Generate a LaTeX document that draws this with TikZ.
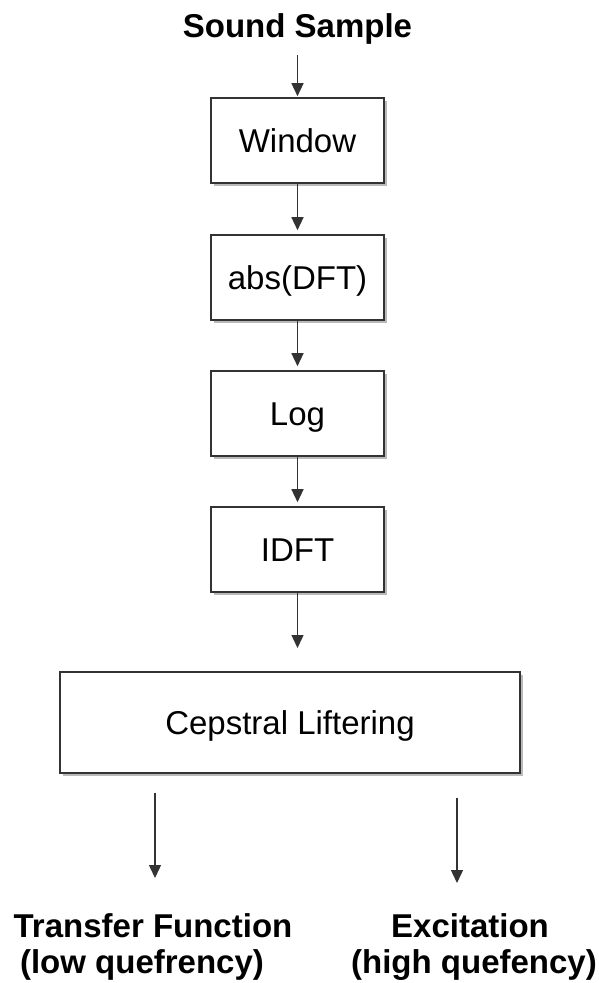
\documentclass[tikz,border=0pt]{standalone}
\usepackage{fontspec}
\setmainfont{Liberation Sans}
\usetikzlibrary{arrows.meta,shadows}
\begin{document}
\begin{tikzpicture}[x=1pt,y=-1pt,
  stepbox/.style={draw=black!80, line width=1.6pt, fill=white, inner sep=0pt,
    minimum width=173pt, minimum height=85pt,
    font=\fontsize{33}{40}\selectfont, text height=23.6pt, text depth=0pt,
    drop shadow={shadow xshift=2.5pt, shadow yshift=-2.5pt, fill=black!45, opacity=0.6}},
  title/.style={font=\fontsize{33}{40}\selectfont\bfseries, inner sep=0pt, anchor=base},
  arr/.style={draw=black!80, line width=1.4pt, -{Triangle[length=13pt,width=12pt]}}
]
\useasboundingbox (0,0) rectangle (599,983);

\node[title] (ss) at (297.5,37) {Sound Sample};
\node[stepbox] (win) at (297.5,140.5) {Window};
\node[stepbox] (abs) at (297.5,277.5) {abs(DFT)};
\node[stepbox] (log) at (297.5,413.5) {Log};
\node[stepbox] (idft) at (297.5,549.5) {IDFT};
\node[stepbox, minimum width=460pt, minimum height=101pt] (cep) at (290,722.5) {Cepstral Liftering};

\node[title] (tf) at (153,937) {Transfer Function};
\node[title] (tfq) at (142,973) {(low quefrency)};
\node[title] (ex) at (470,937) {Excitation};
\node[title] (exq) at (474,973) {(high quefency)};

\coordinate (c1) at (297.5,648);
\coordinate (l1) at (155,793);
\coordinate (l2) at (155,878);
\coordinate (r1) at (457,798);
\coordinate (r2) at (457,883);

\draw[arr, shorten <=11pt, shorten >=1pt] (ss) -- (win);
\draw[arr, shorten >=4pt] (win) -- (abs);
\draw[arr, shorten >=4pt] (abs) -- (log);
\draw[arr, shorten >=4pt] (log) -- (idft);
\draw[arr] (idft) -- (c1);
\draw[arr] (l1) -- (l2);
\draw[arr] (r1) -- (r2);
\end{tikzpicture}
\end{document}
